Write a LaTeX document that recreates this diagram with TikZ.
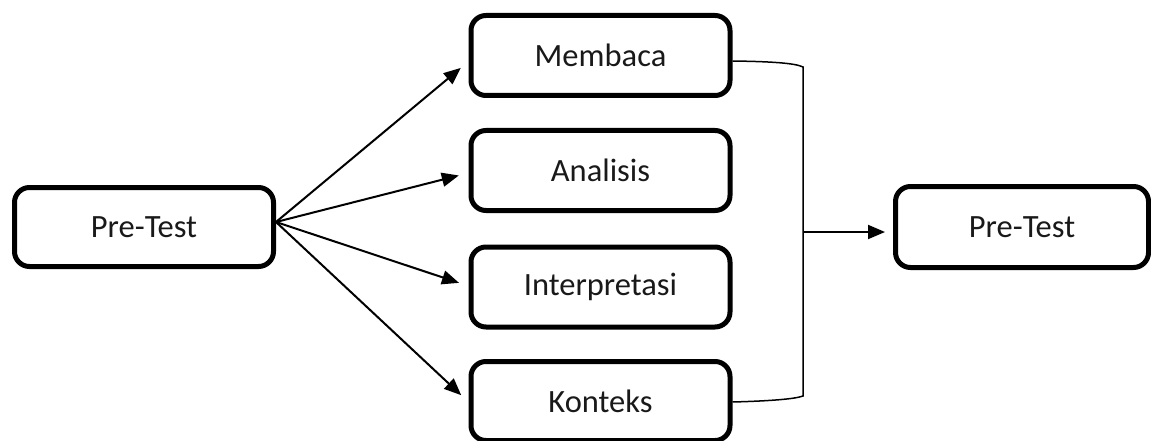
\documentclass[tikz,border=0pt]{standalone}
\usepackage{fontspec}
\setmainfont{Carlito}
\usetikzlibrary{arrows.meta}
\tikzset{
  box/.style={draw=black, line width=5pt, rounded corners=15pt, minimum width=259pt, minimum height=80pt, inner sep=0pt, font=\fontsize{32.5}{38}\selectfont, text=black!90},
  conn/.style={line width=2pt, -{Triangle[length=17pt,width=14pt]}, shorten >=10pt},
  brace/.style={line width=1.5pt}
}
\begin{document}
\begin{tikzpicture}[x=1pt, y=-1pt]
\useasboundingbox (0,0) rectangle (1151,441);
\node[box, minimum height=79pt] (L) at (144,227) {Pre-Test};
\node[box] (B1) at (600.5,55.5) {Membaca};
\node[box] (B2) at (600.5,170.5) {Analisis};
\node[box] (B3) at (600.5,287) {Interpretasi};
\node[box, minimum height=79pt] (B4) at (600.5,401) {Konteks};
\node[box, minimum width=253pt, minimum height=81pt] (R) at (1022,227) {Pre-Test};
\draw[conn] ([yshift=5pt]L.east) -- ([yshift=-6pt]B1.west);
\draw[conn] ([yshift=5pt]L.east) -- ([yshift=-2.5pt]B2.west);
\draw[conn] ([yshift=5pt]L.east) -- ([yshift=1pt]B3.west);
\draw[conn] ([yshift=5pt]L.east) -- ([yshift=-1pt]B4.west);
\coordinate (top) at (803,67);
\coordinate (bot) at (803,396);
\coordinate (j) at (803,232);
\draw[brace] ([yshift=-5.5pt]B1.east) .. controls (770,61.5) and (795,63) .. (top) -- (bot) .. controls (795,399) and (770,401) .. ([yshift=-1pt]B4.east);
\draw[conn, shorten >=8pt] (j) -- (j -| R.west);
\end{tikzpicture}
\end{document}
